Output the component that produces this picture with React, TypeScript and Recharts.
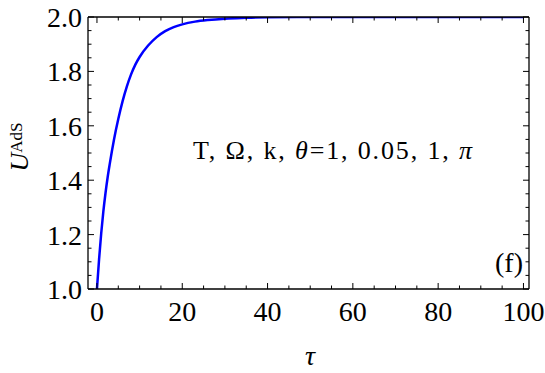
import React from "react";
import { LineChart, Line, XAxis, YAxis } from "recharts";

// values
const tau = [0, 0.5, 1, 1.5, 2, 2.5, 3, 4, 5, 6, 7, 8, 9, 10, 12, 14, 16, 18, 20, 23, 26, 30, 35, 40, 50, 60, 70, 80, 90, 100];
const uAdS = [1.0, 1.11, 1.205, 1.285, 1.352, 1.41, 1.46, 1.55, 1.625, 1.69, 1.744, 1.789, 1.825, 1.853, 1.895, 1.926, 1.948, 1.963, 1.973, 1.983, 1.989, 1.994, 1.997, 1.999, 2.0, 2.0, 2.0, 2.0, 2.0, 2.0];

// tick positions: every entry gets a mark, majors also get a label
const xTicks = [0, 5, 10, 15, 20, 25, 30, 35, 40, 45, 50, 55, 60, 65, 70, 75, 80, 85, 90, 95, 100];
const xMajor = [0, 20, 40, 60, 80, 100];
const yTicks = [1.0, 1.05, 1.1, 1.15, 1.2, 1.25, 1.3, 1.35, 1.4, 1.45, 1.5, 1.55, 1.6, 1.65, 1.7, 1.75, 1.8, 1.85, 1.9, 1.95, 2.0];
const yMajor = [1.0, 1.2, 1.4, 1.6, 1.8, 2.0];

const data = tau.map((t, i) => ({ t, u: uAdS[i] }));

const FONT = "Liberation Serif, Times New Roman, Times, serif";
const X_DOMAIN: [number, number] = [-2.1, 101.3];
const Y_DOMAIN: [number, number] = [1, 2];
const MAJ = 6;
const MIN = 3.5;

const isMajor = (list: number[], v: number) => list.some((m) => Math.abs(m - v) < 1e-9);

type TickProps = { x?: number; y?: number; payload?: { value: number } };

function BottomTick({ x = 0, y = 0, payload }: TickProps) {
  const v = payload ? payload.value : 0;
  const maj = isMajor(xMajor, v);
  return (
    <g>
      <line x1={x} x2={x} y1={y} y2={y - (maj ? MAJ : MIN)} stroke="#000" strokeWidth={1} />
      {maj && (
        <text x={x} y={y + 32} textAnchor="middle" fontSize={28} style={{ fontFamily: FONT }} fill="#000">
          {String(v)}
        </text>
      )}
    </g>
  );
}

function TopTick({ x = 0, y = 0, payload }: TickProps) {
  const maj = isMajor(xMajor, payload ? payload.value : 0);
  return <line x1={x} x2={x} y1={y} y2={y + (maj ? MAJ : MIN)} stroke="#000" strokeWidth={1} />;
}

function LeftTick({ x = 0, y = 0, payload }: TickProps) {
  const v = payload ? payload.value : 0;
  const maj = isMajor(yMajor, v);
  return (
    <g>
      <line x1={x} x2={x + (maj ? MAJ : MIN)} y1={y} y2={y} stroke="#000" strokeWidth={1} />
      {maj && (
        <text x={x - 6} y={y + 10} textAnchor="end" fontSize={28} style={{ fontFamily: FONT }} fill="#000">
          {v.toFixed(1)}
        </text>
      )}
    </g>
  );
}

function RightTick({ x = 0, y = 0, payload }: TickProps) {
  const maj = isMajor(yMajor, payload ? payload.value : 0);
  return <line x1={x} x2={x - (maj ? MAJ : MIN)} y1={y} y2={y} stroke="#000" strokeWidth={1} />;
}

const frameStroke = { stroke: "#000", strokeWidth: 1.3 };

export default function App() {
  return (
    <div style={{ position: "absolute", left: 0, top: 0, width: 545, height: 373, background: "#fff" }}>
      <LineChart width={545} height={373} data={data} margin={{ top: 0, right: 0, bottom: 0, left: 0 }}>
        <XAxis xAxisId="x" dataKey="t" type="number" domain={X_DOMAIN} allowDataOverflow ticks={xTicks}
          interval={0} height={84} tickSize={0} tickMargin={0} tickLine={false} axisLine={frameStroke} tick={<BottomTick />} />
        <XAxis xAxisId="top" orientation="top" dataKey="t" type="number" domain={X_DOMAIN} allowDataOverflow ticks={xTicks}
          interval={0} height={17} tickSize={0} tickMargin={0} tickLine={false} axisLine={frameStroke} tick={<TopTick />} />
        <YAxis yAxisId="y" type="number" domain={Y_DOMAIN} allowDataOverflow ticks={yTicks}
          interval={0} width={88} tickSize={0} tickMargin={0} tickLine={false} axisLine={frameStroke} tick={<LeftTick />} />
        <YAxis yAxisId="right" orientation="right" type="number" domain={Y_DOMAIN} allowDataOverflow ticks={yTicks}
          interval={0} width={16} tickSize={0} tickMargin={0} tickLine={false} axisLine={frameStroke} tick={<RightTick />} />

        <Line xAxisId="x" yAxisId="y" type="monotone" dataKey="u" stroke="#0000ff" strokeWidth={2.5}
          dot={false} activeDot={false} isAnimationActive={false} />
      </LineChart>

      <svg width={545} height={373} style={{ position: "absolute", left: 0, top: 0, pointerEvents: "none", fontFamily: FONT }}>
        <text transform="translate(28,147) rotate(-90)" textAnchor="middle" fill="#000">
          <tspan fontSize={26} fontStyle="italic">U</tspan>
          <tspan fontSize={17} dy={-6}>AdS</tspan>
        </text>
        <text x={310} y={365} textAnchor="middle" fontSize={28} fontStyle="italic" fill="#000">τ</text>
        <text x={193} y={159} fontSize={26} fill="#000" textLength={279} lengthAdjust="spacing">
          T, Ω, k, <tspan fontStyle="italic">θ</tspan>=1, 0.05, 1, <tspan fontStyle="italic">π</tspan>
        </text>
        <text x={523} y={272} textAnchor="end" fontSize={28} fill="#000">(f)</text>
      </svg>
    </div>
  );
}
